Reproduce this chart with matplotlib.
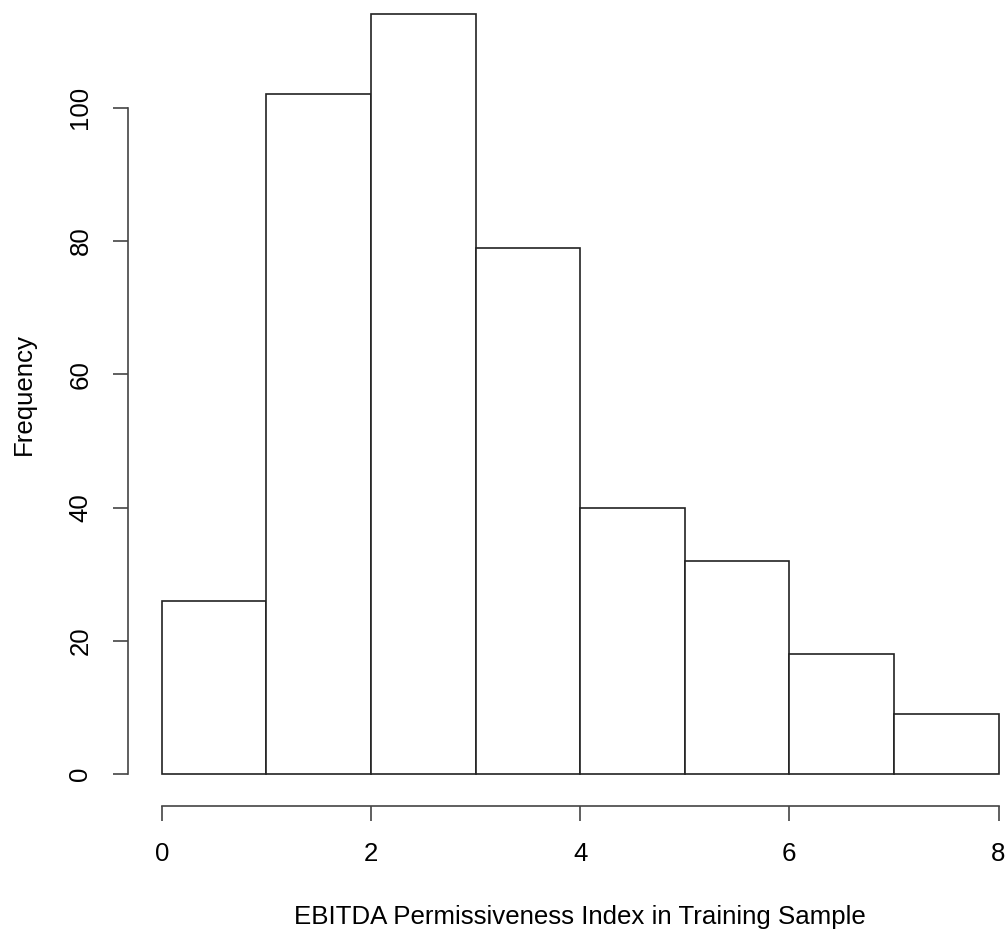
import matplotlib
matplotlib.use("Agg")
import matplotlib.pyplot as plt

# bin edges and counts
bin_edges = [0, 1, 2, 3, 4, 5, 6, 7, 8]
counts = [26, 102, 114, 79, 40, 32, 18, 9]
x_ticks = [0, 2, 4, 6, 8]
y_ticks = [0, 20, 40, 60, 80, 100]

plt.rcParams['font.family'] = ['Liberation Sans', 'DejaVu Sans']

W, H = 1008, 932
fig = plt.figure(figsize=(W / 100, H / 100), dpi=100)

# axes box in pixels (left spine at x=128, bottom spine at y=806)
left_px, bottom_px = 128.3, 805.7
ax = fig.add_axes([left_px / W, (H - bottom_px) / H, (W - left_px) / W, bottom_px / H])

x0_px, px_per_x = 161.7, 104.6
y0_px, px_per_y = 774.3, 6.667
ax.set_xlim(-(x0_px - left_px) / px_per_x, (W - x0_px) / px_per_x)
ax.set_ylim(-(bottom_px - y0_px) / px_per_y, y0_px / px_per_y)

widths = [b - a for a, b in zip(bin_edges[:-1], bin_edges[1:])]
ax.bar(bin_edges[:-1], counts, width=widths, align='edge',
       facecolor='white', edgecolor='#222222', linewidth=1.2)

for s in ['top', 'right']:
    ax.spines[s].set_visible(False)
ax.spines['left'].set_bounds(0, 100)
ax.spines['bottom'].set_bounds(0, 8)
for s in ['left', 'bottom']:
    ax.spines[s].set_linewidth(1.2)
    ax.spines[s].set_color('#444444')

ax.set_xticks(x_ticks)
ax.set_yticks(y_ticks)
ax.tick_params(direction='out', length=10.8, width=1.2, color='#444444',
               labelsize=18.6, pad=15)
ax.set_yticklabels([str(v) for v in y_ticks], rotation=90, va='center')

# R centres the labels on the plot region, not on the cropped axes box
ax.set_xlabel('EBITDA Permissiveness Index in Training Sample', fontsize=18.6,
              labelpad=28.5, x=(580 - left_px) / (W - left_px))
ax.set_ylabel('Frequency', fontsize=18.6, labelpad=23.5,
              y=(bottom_px - 394) / bottom_px)

fig.savefig('out.png', dpi=100, facecolor='white')
